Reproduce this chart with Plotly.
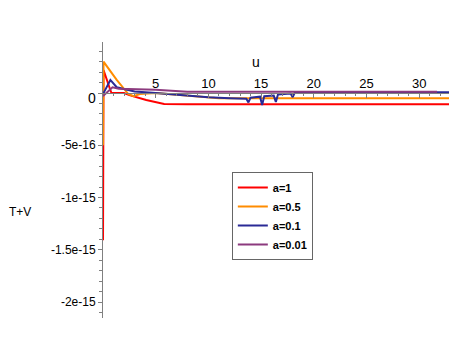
import plotly.graph_objects as go

# T+V energy curves against u, for several values of a
u_a1 = [0, 0.05, 0.63, 0.8, 2.0, 2.5, 4.1, 4.9, 5.8, 8, 33.4]
tv_a1 = [-14.1e-16, 2.2e-16, 0.48e-16, 0.0, 0.0, -0.2e-16, -0.67e-16, -0.86e-16,
         -1.05e-16, -1.08e-16, -1.08e-16]

u_a05 = [0, 0.05, 1.3, 2.4, 2.9, 3.5, 5, 8, 11, 13, 33.4]
tv_a05 = [-5.0e-16, 3.0e-16, 1.25e-16, -0.1e-16, -0.3e-16, -0.1e-16, 0.0,
          -0.25e-16, -0.5e-16, -0.5e-16, -0.5e-16]

u_a01 = [0, 0.7, 1.3, 2.0, 3, 5, 8, 10, 12, 13.6, 13.8, 14.0, 14.9, 15.1, 15.3,
         16.2, 16.4, 16.6, 17.8, 18.0, 18.2, 20, 33.4]
tv_a01 = [-0.1e-16, 1.25e-16, 0.55e-16, 0.4e-16, 0.15e-16, 0.0, -0.25e-16,
          -0.4e-16, -0.5e-16, -0.55e-16, -0.9e-16, -0.45e-16, -0.35e-16,
          -1.15e-16, -0.3e-16, -0.25e-16, -0.85e-16, -0.15e-16, -0.05e-16,
          -0.4e-16, 0.05e-16, 0.07e-16, 0.07e-16]

u_a001 = [0, 0.9, 1.5, 2.5, 5, 8, 31.7]
tv_a001 = [-0.3e-16, 0.55e-16, 0.4e-16, 0.38e-16, 0.3e-16, 0.12e-16, 0.12e-16]

y_tickvals = [0, -5e-16, -1e-15, -1.5e-15, -2e-15]
y_ticktext = ['', '-5e-16', '-1e-15', '-1.5e-15', '-2e-15']  # "0" drawn separately
x_tickvals = [5, 10, 15, 20, 25, 30]

y_min, y_max = -2.153e-15, 0.488e-15
zero_pos = (0 - y_min) / (y_max - y_min)

fig = go.Figure()
fig.add_trace(go.Scatter(x=u_a1, y=tv_a1, name='a=1', mode='lines',
                         line=dict(color='#ff0000', width=2)))
fig.add_trace(go.Scatter(x=u_a05, y=tv_a05, name='a=0.5', mode='lines',
                         line=dict(color='#ff8c00', width=2)))
fig.add_trace(go.Scatter(x=u_a01, y=tv_a01, name='a=0.1', mode='lines',
                         line=dict(color='#2a2a96', width=2)))
fig.add_trace(go.Scatter(x=u_a001, y=tv_a001, name='a=0.01', mode='lines',
                         line=dict(color='#8c3a7e', width=2)))

# the page body adds an 8px offset, so the figure is 8px smaller than the window
fig.update_layout(
    width=449, height=353,
    margin=dict(l=95, r=2, t=34, b=43, autoexpand=False),
    plot_bgcolor='white', paper_bgcolor='white',
    font=dict(family='Liberation Sans, Arial, sans-serif', size=12, color='black'),
    showlegend=True,
    legend=dict(x=0.366, y=0.529, xanchor='left', yanchor='top',
                bgcolor='white', bordercolor='#666666', borderwidth=1,
                font=dict(size=11, family='Liberation Sans, Arial, sans-serif',
                          weight='bold'),
                tracegroupgap=0),
    xaxis=dict(range=[0, 33.4], anchor='free', position=zero_pos, side='top',
               automargin=False,
               showgrid=False, zeroline=False, showline=True, linecolor='#808080',
               linewidth=1, tickvals=x_tickvals, ticks='inside', ticklen=4,
               tickcolor='#808080',
               minor=dict(dtick=1, ticks='inside', ticklen=2, tickcolor='#808080'),
               tickfont=dict(size=13)),
    yaxis=dict(range=[y_min, y_max], automargin=False,
               showgrid=False, zeroline=False, showline=True,
               linecolor='#808080', linewidth=1, tickvals=y_tickvals,
               ticktext=y_ticktext, ticks='outside', ticklen=4, tickcolor='#808080',
               minor=dict(dtick=1e-16, tick0=0, ticks='outside', ticklen=3,
                          tickcolor='#808080'),
               tickfont=dict(size=12)),
    annotations=[
        dict(text='u', x=(256 - 103) / 352, y=(318 - 62) / 276, xref='paper',
             yref='paper', xanchor='center', yanchor='middle', showarrow=False,
             font=dict(size=14)),
        dict(text='T+V', x=(20 - 103) / 352, y=(318 - 212) / 276, xref='paper',
             yref='paper', xanchor='center', yanchor='middle', showarrow=False,
             font=dict(size=12)),
        dict(text='0', x=(92 - 103) / 352, y=(318 - 98) / 276, xref='paper',
             yref='paper', xanchor='center', yanchor='middle', showarrow=False,
             font=dict(size=14)),
    ],
)

fig.write_html("out.html")
